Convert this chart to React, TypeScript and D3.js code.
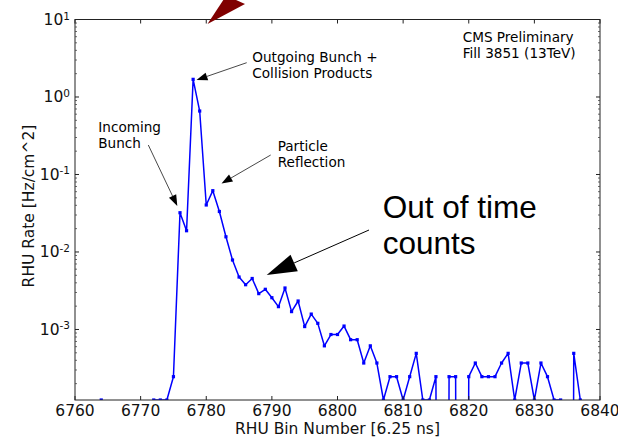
import React from "react";
import * as d3 from "d3";

// ---- data ----
const bins = [
  6763, 6764, 6765, 6766, 6767, 6768, 6769, 6770, 6771, 6772, 6773, 6774, 6775,
  6776, 6777, 6778, 6779, 6780, 6781, 6782, 6783, 6784, 6785, 6786, 6787, 6788,
  6789, 6790, 6791, 6792, 6793, 6794, 6795, 6796, 6797, 6798, 6799, 6800, 6801,
  6802, 6803, 6804, 6805, 6806, 6807, 6808, 6809, 6810, 6811, 6812, 6813, 6814,
  6815, 6816, 6817, 6818, 6819, 6820, 6821, 6822, 6823, 6824, 6825, 6826, 6827,
  6828, 6829, 6830, 6831, 6832, 6833, 6834, 6835, 6836, 6837, 6838,
];
const rates = [
  0, 1.23e-4, 0, 0, 0, 0, 0, 0, 0, 1.23e-4, 1.23e-4, 1.23e-4, 2.46e-4,
  0.0321, 0.0188, 1.69, 0.659, 0.0404, 0.0618, 0.0333, 0.0157, 0.00788, 0.00475, 0.00378, 0.00455, 0.0029,
  0.0033, 0.00257, 0.00197, 0.00343, 0.0017, 0.00233, 0.00109, 0.00158, 0.0012, 6.15e-4, 8.61e-4, 8.61e-4, 1.107e-3,
  7.38e-4, 7.38e-4, 3.69e-4, 6.15e-4, 3.69e-4, 1.23e-4, 2.46e-4, 2.46e-4, 1.23e-4, 2.46e-4, 4.92e-4, 1.23e-4, 1.23e-4,
  2.46e-4, 0, 2.46e-4, 2.46e-4, 0, 2.46e-4, 3.69e-4, 2.46e-4, 2.46e-4, 2.46e-4, 3.69e-4, 4.92e-4, 1.23e-4,
  3.69e-4, 3.69e-4, 1.23e-4, 3.69e-4, 2.46e-4, 1.23e-4, 1.23e-4, 0, 4.92e-4, 1.23e-4, 0,
];
const xTicks = [6760, 6770, 6780, 6790, 6800, 6810, 6820, 6830, 6840];
const yDecades = [1, 0, -1, -2, -3];
const xDomain = [6760, 6840];
const yDomain = [1.23e-4, 10];

const W = 618;
const H = 438;
const L = 75, R = 600, T = 19.5, B = 400;

export default function App() {
  const x = d3.scaleLinear().domain(xDomain).range([L, R]);
  const y = d3.scaleLog().domain(yDomain).range([B, T]);
  const pts = bins.map((b, i) => ({ b, v: rates[i] }));
  const line = d3
    .line<{ b: number; v: number }>()
    .x((d) => x(d.b))
    .y((d) => y(d.v > 0 ? d.v : 1e-30));

  const minor: number[] = [];
  for (let dec = -4; dec <= 0; dec++) {
    for (let k = 2; k <= 9; k++) {
      const v = k * Math.pow(10, dec);
      if (v >= yDomain[0] && v <= yDomain[1]) minor.push(v);
    }
  }

  const font = "'DejaVu Sans', sans-serif";
  const ann = { fontFamily: font, fontSize: 13.6, fill: "#000" } as const;

  const arrowHead = (x1: number, y1: number, x2: number, y2: number, len: number, hw: number) => {
    const dx = x2 - x1, dy = y2 - y1;
    const d = Math.hypot(dx, dy);
    const ux = dx / d, uy = dy / d;
    const bx = x2 - ux * len, by = y2 - uy * len;
    const px = -uy, py = ux;
    return {
      poly: `${x2},${y2} ${bx + px * hw},${by + py * hw} ${bx - px * hw},${by - py * hw}`,
      bx, by,
    };
  };

  const a1 = arrowHead(246.7, 62.7, 196.5, 80, 11, 4);
  const a2 = arrowHead(148.3, 145, 177.3, 206, 11, 4);
  const a3 = arrowHead(270.7, 155, 221.5, 183.5, 11, 4);
  const a4 = arrowHead(369, 230, 266.7, 275, 30, 9);

  return (
    <svg
      width={W}
      height={H}
      style={{ position: "absolute", left: 0, top: 0, background: "#fff" }}
    >
      <rect x={0} y={0} width={W} height={H} fill="#fff" />
      <defs>
        <clipPath id="plot">
          <rect x={L} y={T} width={R - L} height={B - T} />
        </clipPath>
      </defs>
      <g clipPath="url(#plot)">
        <path d={line(pts) || ""} fill="none" stroke="#0000ff" strokeWidth={1.5} strokeLinejoin="round" />
        {pts
          .filter((p) => p.v > 0)
          .map((p, i) => (
            <rect key={i} x={x(p.b) - 1.6} y={y(p.v) - 1.6} width={3.2} height={3.2} fill="#0000ff" />
          ))}
      </g>
      {/* frame */}
      <rect x={L} y={T} width={R - L} height={B - T} fill="none" stroke="#222" strokeWidth={1} />
      {/* x ticks */}
      {xTicks.map((t) => (
        <g key={t}>
          <line x1={x(t)} x2={x(t)} y1={B} y2={B - 4} stroke="#222" />
          <line x1={x(t)} x2={x(t)} y1={T} y2={T + 4} stroke="#222" />
          <text x={x(t)} y={416} textAnchor="middle" fontFamily={font} fontSize={15.5} fill="#111">
            {t}
          </text>
        </g>
      ))}
      {/* y ticks */}
      {yDecades.map((e) => {
        const yy = y(Math.pow(10, e));
        return (
          <g key={e}>
            <line x1={L} x2={L + 4} y1={yy} y2={yy} stroke="#222" />
            <line x1={R} x2={R - 4} y1={yy} y2={yy} stroke="#222" />
            <text x={70} y={yy + 5.5} textAnchor="end" fontFamily={font} fontSize={15.5} fill="#111">
              <tspan>10</tspan>
              <tspan dy={-5.5} fontSize={10.5}>{e < 0 ? "-" + -e : String(e)}</tspan>
            </text>
          </g>
        );
      })}
      {minor.map((v) => (
        <g key={v}>
          <line x1={L} x2={L + 2} y1={y(v)} y2={y(v)} stroke="#444" strokeWidth={0.8} />
          <line x1={R} x2={R - 2} y1={y(v)} y2={y(v)} stroke="#444" strokeWidth={0.8} />
        </g>
      ))}
      {/* axis labels */}
      <text x={337.5} y={434} textAnchor="middle" fontFamily={font} fontSize={15.5} fill="#111">
        RHU Bin Number [6.25 ns]
      </text>
      <text
        transform="translate(33.5,206) rotate(-90)"
        textAnchor="middle"
        fontFamily={font}
        fontSize={15.5}
        fill="#111"
      >
        RHU Rate [Hz/cm^2]
      </text>
      {/* annotations */}
      <text {...ann} x={462.7} y={41.7}>CMS Preliminary</text>
      <text {...ann} x={462.7} y={58.3}>Fill 3851 (13TeV)</text>

      <text {...ann} x={252.3} y={62}>Outgoing Bunch +</text>
      <text {...ann} x={252.3} y={78}>Collision Products</text>
      <line x1={246.7} y1={62.7} x2={a1.bx} y2={a1.by} stroke="#333" strokeWidth={0.9} />
      <polygon points={a1.poly} fill="#000" />

      <text {...ann} x={98.3} y={131.5}>Incoming</text>
      <text {...ann} x={98.3} y={147.5}>Bunch</text>
      <line x1={148.3} y1={145} x2={a2.bx} y2={a2.by} stroke="#333" strokeWidth={0.9} />
      <polygon points={a2.poly} fill="#000" />

      <text {...ann} x={277.7} y={150.7}>Particle</text>
      <text {...ann} x={277.7} y={166.7}>Reflection</text>
      <line x1={270.7} y1={155} x2={a3.bx} y2={a3.by} stroke="#333" strokeWidth={0.9} />
      <polygon points={a3.poly} fill="#000" />

      <text x={382.7} y={218} fontFamily="'Liberation Sans', Arial, sans-serif" fontSize={31.5} fill="#000">
        Out of time
      </text>
      <text x={382.7} y={253.5} fontFamily="'Liberation Sans', Arial, sans-serif" fontSize={31.5} fill="#000">
        counts
      </text>
      <line x1={369} y1={230} x2={a4.bx} y2={a4.by} stroke="#000" strokeWidth={1} />
      <polygon points={a4.poly} fill="#000" />

      {/* red arrowhead at top */}
      <polygon points="207.5,24 245,4 226.2,-4.4" fill="#800000" />
    </svg>
  );
}
